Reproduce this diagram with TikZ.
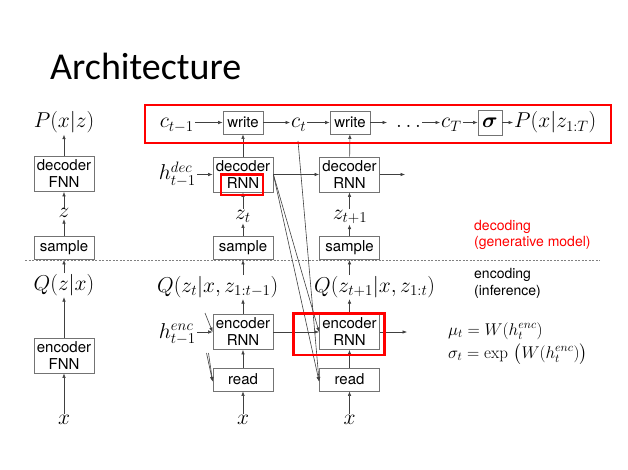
\documentclass[tikz,border=0pt]{standalone}
\usepackage{fix-cm}
\usepackage{amsmath}
\usepackage{fontspec}
\setsansfont{TeX Gyre Heros}
\newfontfamily\titlefont{Carlito}
\usetikzlibrary{arrows.meta}
\begin{document}
\begin{tikzpicture}[x=1pt,y=-1pt,
  box/.style={draw=black!55, line width=0.8pt, font=\fontsize{15}{17}\selectfont\sffamily, align=center, inner sep=0pt, minimum width=60pt},
  tall/.style={box, minimum height=35pt},
  short/.style={box, minimum height=23pt},
  wbox/.style={box, minimum width=40pt, minimum height=23pt},
  mth/.style={inner sep=1pt, font=\fontsize{21.5}{24}\selectfont},
  arr/.style={draw=black!75, line width=0.6pt, -{Latex[length=4.5pt,width=3.5pt]}},
  lbl/.style={font=\fontsize{14}{16.5}\selectfont\sffamily, align=left, anchor=west, inner sep=0pt},
  eqn/.style={anchor=base west, inner sep=0pt, font=\fontsize{17}{20}\selectfont},
  redbox/.style={draw=red, line width=2.6pt}
]
\useasboundingbox (0,0) rectangle (628,470);

\node[anchor=base west, inner sep=0pt, font=\titlefont\fontsize{38}{40}\selectfont] (title) at (50,80) {Architecture};

% left column
\node[mth, anchor=base] (lP) at (64,128) {$P(x|z)$};
\node[tall] (ldec) at (64,174) {decoder\\FNN};
\node[mth, anchor=base] (lz) at (64,218) {$z$};
\node[short] (lsamp) at (64,248) {sample};
\node[mth, anchor=base] (lQ) at (64,290.5) {$Q(z|x)$};
\node[tall] (lenc) at (64,355.5) {encoder\\FNN};
\node[mth, anchor=base] (lx) at (64,424) {$x$};
\draw[arr] (ldec) -- (lP);
\draw[arr] (lz) -- (ldec);
\draw[arr] (lsamp) -- (lz);
\draw[arr] (lQ) -- (lsamp);
\draw[arr] (lenc) -- (lQ);
\draw[arr] (lx) -- (lenc);

% top row
\node[wbox] (w1) at (243,122.5) {write};
\node[wbox] (w2) at (350,122.5) {write};
\node[mth, anchor=base east] (ctm) at (195,128) {$c_{t-1}$};
\node[mth, anchor=base west] (ct) at (290,128) {$c_t$};
\node[mth, anchor=base west] (dots) at (395,128) {$\ldots$};
\node[mth, anchor=base west] (cT) at (440,128) {$c_T$};
\node[draw=black!55, line width=0.8pt, minimum width=24pt, minimum height=25pt, inner sep=0pt, font=\fontsize{21.5}{24}\selectfont] (sig) at (490,122.5) {$\boldsymbol{\sigma}$};
\node[mth, anchor=base west] (Pf) at (513,128) {$P(x|z_{1:T})$};
\coordinate (wout) at (387,122.5);
\draw[arr] (ctm.east |- w1) -- (w1.west);
\draw[arr] (w1.east) -- (ct.west |- w1);
\draw[arr] (ct.east |- w2) -- (w2.west);
\draw[arr] (w2.east) -- (wout);
\draw[arr] (dots.east |- w2) -- (cT.west |- w2);
\draw[arr] (cT.east |- sig) -- (sig.west);
\draw[arr] (sig.east) -- (Pf.west |- sig);

% decoder row
\node[tall] (dec1) at (243,174.5) {decoder\\RNN};
\node[tall] (dec2) at (349.5,174.5) {decoder\\RNN};
\node[mth, anchor=base east] (hdec) at (197,180) {$h^{dec}_{t-1}$};
\coordinate (dout) at (405,174.5);
\draw[arr] (hdec.east |- dec1) -- (dec1.west);
\draw[arr] (dec1) -- (dec2);
\draw[arr] (dec2.east) -- (dout);
\draw[arr] (dec1) -- (w1);
\draw[arr] (dec2) -- (w2);

% z and sample
\node[mth, anchor=base] (zt) at (243,219) {$z_t$};
\node[mth, anchor=base] (zt1) at (350,219) {$z_{t+1}$};
\node[short] (s1) at (243,248) {sample};
\node[short] (s2) at (349.5,248) {sample};
\draw[arr] (zt.north -| dec1) -- (dec1.south);
\draw[arr] (zt1.north -| dec2) -- (dec2.south);
\draw[arr] (s1.north) -- (s1.north |- zt.south);
\draw[arr] (s2.north) -- (s2.north |- zt1.south);

\draw[black!50, line width=0.6pt, dash pattern=on 2pt off 1.5pt] (25,260.5) -- (600,260.5);

% Q
\node[mth, anchor=base west] (Q1) at (156,292.5) {$Q(z_t|x,z_{1:t-1})$};
\node[mth, anchor=base west] (Q2) at (313,292.5) {$Q(z_{t+1}|x,z_{1:t})$};
\draw[arr] (Q1.north -| s1) -- (s1.south);
\draw[arr] (Q2.north -| s2) -- (s2.south);

% encoder row
\node[tall] (enc1) at (243,332) {encoder\\RNN};
\node[tall] (enc2) at (349.5,332) {encoder\\RNN};
\node[mth, anchor=base east] (henc) at (197,338) {$h^{enc}_{t-1}$};
\coordinate (eout) at (407,332);
\draw[arr] (henc.east |- enc1) -- (enc1.west);
\draw[arr] (enc1) -- (enc2);
\draw[arr] (enc2.east) -- (eout);
\draw[arr] (enc1.north) -- (enc1.north |- Q1.south);
\draw[arr] (enc2.north) -- (enc2.north |- Q2.south);

\node[short] (r1) at (243,379.5) {read};
\node[short] (r2) at (349.5,379.5) {read};
\node[mth, anchor=base] (x1) at (243,424) {$x$};
\node[mth, anchor=base] (x2) at (349.5,424) {$x$};
\draw[arr] (r1) -- (enc1);
\draw[arr] (r2) -- (enc2);
\draw[arr] (x1) -- (r1);
\draw[arr] (x2) -- (r2);

% diagonals
\coordinate (ctd) at (298,141);
\draw[arr] (dec1.east) -- (enc2.west);
\draw[arr] (dec1.east) -- ([yshift=-2pt]r2.west);
\draw[arr] (ctd) -- ([yshift=-2pt]r2.west);
\coordinate (e0) at (205,313);
\coordinate (r0a) at (206.5,353);
\coordinate (r0b) at (208.5,353);
\draw[arr] (e0) -- (enc1.west);
\draw[arr] (r0a) -- ([yshift=-2pt]r1.west);
\draw[arr] (r0b) -- ([yshift=-2pt]r1.west);

% labels
\node[lbl, text=red] (decl) at (474,235) {decoding\\(generative model)};
\node[lbl] (encl) at (474,283.5) {encoding\\(inference)};
\node[eqn] (mu) at (448,335) {$\mu_t = W(h_t^{enc})$};
\node[eqn] (sg) at (448,358) {$\sigma_t = \exp\,\big(W(h_t^{enc})\big)$};

% red highlights
\draw[redbox] (145,105) rectangle (611,143);
\draw[redbox] (221,174.5) rectangle (263,195);
\draw[redbox] (293.5,313.5) rectangle (384.5,355);
\end{tikzpicture}
\end{document}
